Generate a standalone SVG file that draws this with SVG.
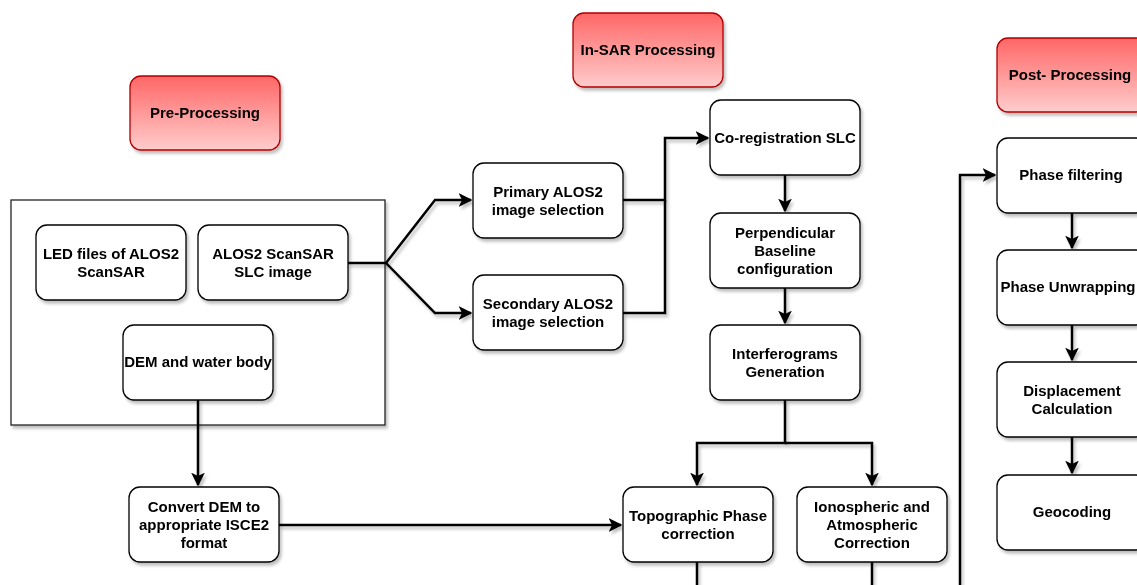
<svg xmlns="http://www.w3.org/2000/svg" width="1137" height="585" viewBox="0 0 1137 585">
<style>
.n{fill:#fff;stroke:#000;stroke-width:1.3}
.h{fill:url(#rg);stroke:#b20000;stroke-width:1.3}
.t{font-family:"Liberation Sans",Arial,sans-serif;font-weight:bold;font-size:15px;fill:#000;text-anchor:middle}
.c{fill:none;stroke:#000;stroke-width:2.5}
</style>
<defs>
<linearGradient id="rg" x1="0" y1="0" x2="0" y2="1"><stop offset="0" stop-color="#ff6666"/><stop offset="1" stop-color="#ffcccc"/></linearGradient>
<filter id="sh" x="-10%" y="-10%" width="130%" height="130%"><feDropShadow dx="2" dy="3" stdDeviation="1.5" flood-color="#000" flood-opacity="0.25"/></filter>
<marker id="ar" viewBox="0 0 10 10" refX="9" refY="5" markerWidth="5.5" markerHeight="5.5" orient="auto" markerUnits="strokeWidth"><path d="M0,0 L10,5 L0,10 L2.5,5 Z" fill="#000"/></marker>
</defs>
<g id="container" filter="url(#sh)"><rect x="11" y="200" width="374" height="225" fill="#fff" stroke="#222" stroke-width="1.3"/></g>
<g id="connectors" filter="url(#sh)">
<path class="c" d="M348,263 H386 L435,200 H471" marker-end="url(#ar)"/>
<path class="c" d="M386,263 L435,313 H471" marker-end="url(#ar)"/>
<path class="c" d="M623,200 H665 V138 H708" marker-end="url(#ar)"/>
<path class="c" d="M623,313 H665 V200"/>
<path class="c" d="M785,175 V211" marker-end="url(#ar)"/>
<path class="c" d="M785,288 V323" marker-end="url(#ar)"/>
<path class="c" d="M785,400 V443 H697 V485" marker-end="url(#ar)"/>
<path class="c" d="M785,443 H872 V485" marker-end="url(#ar)"/>
<path class="c" d="M198,400 V485" marker-end="url(#ar)"/>
<path class="c" d="M279,525 H621" marker-end="url(#ar)"/>
<path class="c" d="M697,562 V586"/>
<path class="c" d="M872,562 V586"/>
<path class="c" d="M960,586 V175 H995" marker-end="url(#ar)"/>
<path class="c" d="M1072,213 V248" marker-end="url(#ar)"/>
<path class="c" d="M1072,325 V360" marker-end="url(#ar)"/>
<path class="c" d="M1072,437 V473" marker-end="url(#ar)"/>
</g>
<g id="pre" filter="url(#sh)"><rect class="h" x="130" y="76" width="150" height="74" rx="11"/><text class="t" x="205" y="118">Pre-Processing</text></g>
<g id="insar" filter="url(#sh)"><rect class="h" x="573" y="13" width="150" height="74" rx="11"/><text class="t" x="648" y="55">In-SAR Processing</text></g>
<g id="post" filter="url(#sh)"><rect class="h" x="997" y="38" width="150" height="74" rx="11"/><text class="t" x="1070" y="80">Post- Processing</text></g>
<g id="led" filter="url(#sh)"><rect class="n" x="36" y="225" width="150" height="75" rx="11"/><text class="t" x="111" y="259">LED files of ALOS2</text><text class="t" x="111" y="277">ScanSAR</text></g>
<g id="alos" filter="url(#sh)"><rect class="n" x="198" y="225" width="150" height="75" rx="11"/><text class="t" x="273" y="259">ALOS2 ScanSAR</text><text class="t" x="273" y="277">SLC image</text></g>
<g id="dem" filter="url(#sh)"><rect class="n" x="123" y="325" width="150" height="75" rx="11"/><text class="t" x="198" y="367">DEM and water body</text></g>
<g id="convert" filter="url(#sh)"><rect class="n" x="129" y="487" width="150" height="75" rx="11"/><text class="t" x="204" y="512">Convert DEM to</text><text class="t" x="204" y="530">appropriate ISCE2</text><text class="t" x="204" y="548">format</text></g>
<g id="primary" filter="url(#sh)"><rect class="n" x="473" y="163" width="150" height="75" rx="11"/><text class="t" x="548" y="197">Primary ALOS2</text><text class="t" x="548" y="215">image selection</text></g>
<g id="secondary" filter="url(#sh)"><rect class="n" x="473" y="275" width="150" height="75" rx="11"/><text class="t" x="548" y="309">Secondary ALOS2</text><text class="t" x="548" y="327">image selection</text></g>
<g id="coreg" filter="url(#sh)"><rect class="n" x="710" y="100" width="150" height="75" rx="11"/><text class="t" x="785" y="143">Co-registration SLC</text></g>
<g id="perp" filter="url(#sh)"><rect class="n" x="710" y="213" width="150" height="75" rx="11"/><text class="t" x="785" y="238">Perpendicular</text><text class="t" x="785" y="256">Baseline</text><text class="t" x="785" y="274">configuration</text></g>
<g id="ifg" filter="url(#sh)"><rect class="n" x="710" y="325" width="150" height="75" rx="11"/><text class="t" x="785" y="359">Interferograms</text><text class="t" x="785" y="377">Generation</text></g>
<g id="topo" filter="url(#sh)"><rect class="n" x="623" y="487" width="150" height="75" rx="11"/><text class="t" x="698" y="521">Topographic Phase</text><text class="t" x="698" y="539">correction</text></g>
<g id="iono" filter="url(#sh)"><rect class="n" x="797" y="487" width="150" height="75" rx="11"/><text class="t" x="872" y="512">Ionospheric and</text><text class="t" x="872" y="530">Atmospheric</text><text class="t" x="872" y="548">Correction</text></g>
<g id="filt" filter="url(#sh)"><rect class="n" x="997" y="138" width="150" height="75" rx="11"/><text class="t" x="1071" y="180">Phase filtering</text></g>
<g id="unwrap" filter="url(#sh)"><rect class="n" x="997" y="250" width="150" height="75" rx="11"/><text class="t" x="1068" y="292">Phase Unwrapping</text></g>
<g id="disp" filter="url(#sh)"><rect class="n" x="997" y="362" width="150" height="75" rx="11"/><text class="t" x="1072" y="396">Displacement</text><text class="t" x="1072" y="414">Calculation</text></g>
<g id="geo" filter="url(#sh)"><rect class="n" x="997" y="475" width="150" height="75" rx="11"/><text class="t" x="1072" y="517">Geocoding</text></g>
</svg>
